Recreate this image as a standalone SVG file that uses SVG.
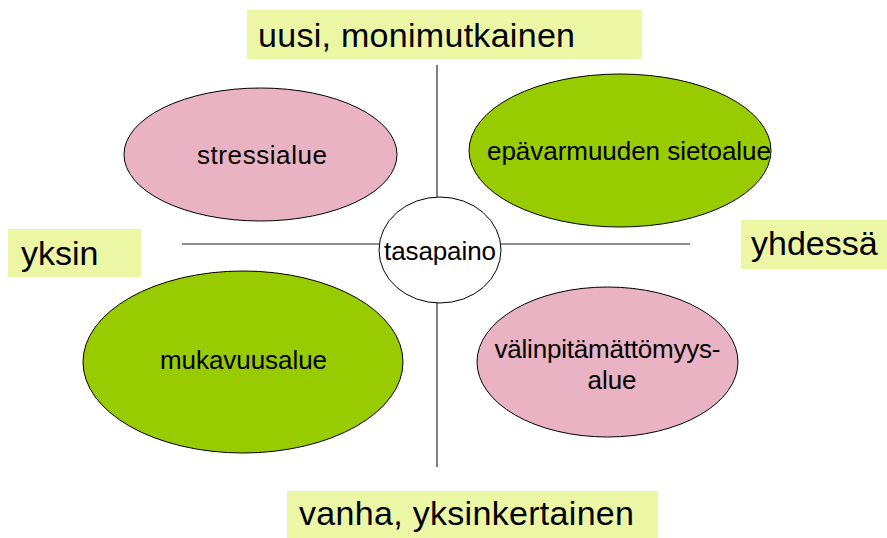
<svg xmlns="http://www.w3.org/2000/svg" width="887" height="538" viewBox="0 0 887 538">
<style>
text{font-family:"Liberation Sans",Arial,sans-serif;fill:#000}
.lbl{font-size:34px}
.in{font-size:26px;text-anchor:middle}
.bg{fill:#EBF7A5}
.pink{fill:#E9B3C3;stroke:#000;stroke-width:1}
.green{fill:#99CC00;stroke:#000;stroke-width:1}
</style>
<rect width="887" height="538" fill="#fff"/>
<g id="connectors">
<line x1="182" y1="244" x2="690" y2="244" stroke="#666" stroke-width="1.5"/>
<line x1="437" y1="65" x2="437" y2="200" stroke="#000" stroke-width="1"/>
<line x1="437" y1="300" x2="437" y2="467" stroke="#000" stroke-width="1"/>
</g>
<g id="label-top"><rect class="bg" x="247" y="10" width="395" height="49"/><text class="lbl" x="258" y="47" textLength="317">uusi, monimutkainen</text></g>
<g id="label-left"><rect class="bg" x="8" y="229" width="133" height="48"/><text class="lbl" x="21" y="265">yksin</text></g>
<g id="label-right"><rect class="bg" x="741" y="220" width="146" height="49"/><text class="lbl" x="751" y="255">yhdessä</text></g>
<g id="label-bottom"><rect class="bg" x="287" y="491" width="371" height="47"/><text class="lbl" x="299" y="525" textLength="335">vanha, yksinkertainen</text></g>
<g id="stressialue"><ellipse class="pink" cx="260.5" cy="154.5" rx="136.5" ry="66.5"/><text class="in" x="262" y="164" textLength="130">stressialue</text></g>
<g id="sietoalue"><ellipse class="green" cx="620" cy="150.5" rx="151" ry="76.5"/><text class="in" x="629" y="160" textLength="284">epävarmuuden sietoalue</text></g>
<g id="mukavuusalue"><ellipse class="green" cx="243" cy="362" rx="160" ry="91"/><text class="in" x="243.5" y="369" textLength="167">mukavuusalue</text></g>
<g id="valinpitamattomyysalue"><ellipse class="pink" cx="607.5" cy="362" rx="130.5" ry="75"/><text class="in" x="607.5" y="358" textLength="226">välinpitämättömyys-</text><text class="in" x="612" y="389">alue</text></g>
<g id="tasapaino"><ellipse cx="440" cy="250" rx="61" ry="53" fill="#fff" stroke="#000" stroke-width="1"/><text class="in" x="440" y="260" textLength="112">tasapaino</text></g>
</svg>
